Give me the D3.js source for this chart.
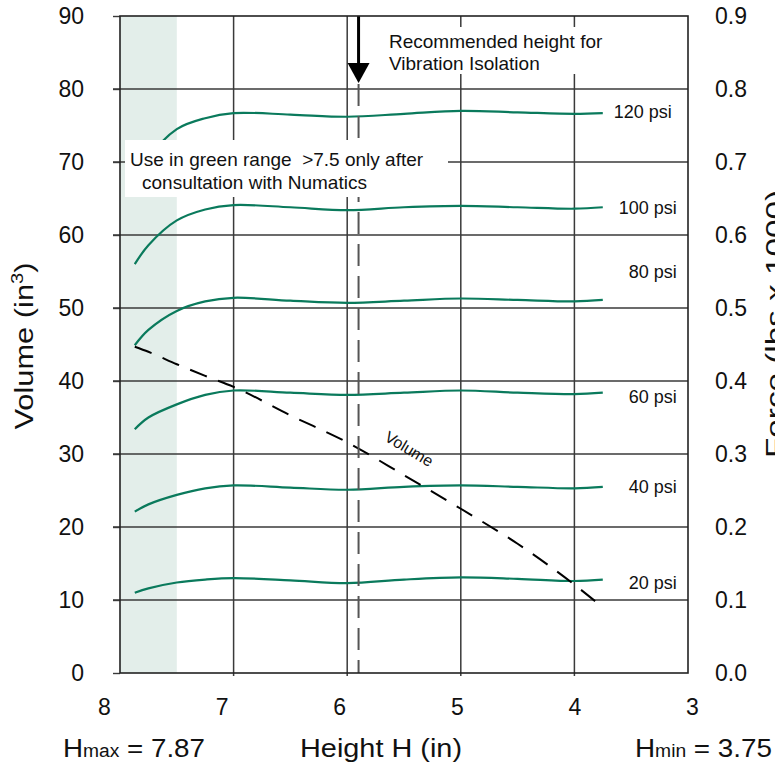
<!DOCTYPE html>
<html>
<head>
<meta charset="utf-8">
<script src="https://cdn.jsdelivr.net/npm/d3@7"></script>
<style>
  html, body { margin: 0; padding: 0; background: #fff; }
  svg { display: block; font-family: "Liberation Sans", Arial, Helvetica, sans-serif; }
</style>
</head>
<body>
<svg id="chart" width="775" height="768"></svg>
<script>
// ---- data ----
const heights = [7.87, 7.75, 7.5, 7.25, 7.0, 6.5, 6.0, 5.5, 5.0, 4.5, 4.0, 3.75];
const pressureLabels = ["120 psi", "100 psi", "80 psi", "60 psi", "40 psi", "20 psi"];
const force120 = [0.670, 0.705, 0.745, 0.760, 0.767, 0.765, 0.762, 0.766, 0.770, 0.768, 0.766, 0.767];
const force100 = [0.560, 0.586, 0.620, 0.635, 0.641, 0.638, 0.634, 0.638, 0.640, 0.638, 0.636, 0.638];
const force80  = [0.449, 0.470, 0.496, 0.509, 0.514, 0.510, 0.507, 0.510, 0.513, 0.511, 0.509, 0.511];
const force60  = [0.334, 0.350, 0.368, 0.381, 0.387, 0.384, 0.381, 0.384, 0.387, 0.384, 0.382, 0.384];
const force40  = [0.221, 0.231, 0.244, 0.253, 0.257, 0.254, 0.251, 0.255, 0.257, 0.255, 0.253, 0.255];
const force20  = [0.110, 0.116, 0.124, 0.128, 0.130, 0.127, 0.123, 0.128, 0.131, 0.129, 0.126, 0.128];
const volume   = [44.7, 44.0, 42.3, 40.7, 39.2, 35.3, 31.6, 27.1, 22.5, 17.7, 12.1, 9.0];
const volumeTicks = [0, 10, 20, 30, 40, 50, 60, 70, 80, 90];
const forceTicks = [0.0, 0.1, 0.2, 0.3, 0.4, 0.5, 0.6, 0.7, 0.8, 0.9];
const heightTicks = [8, 7, 6, 5, 4, 3];
const greenRange = [8, 7.5];
const recommendedHeight = 5.9;
const hMax = 7.87, hMin = 3.75;
const forceSeries = [force120, force100, force80, force60, force40, force20];

// ---- layout ----
const L = 120, R = 688, T = 16, B = 673;
const svg = d3.select("#chart");
const x = d3.scaleLinear().domain([8, 3]).range([L, R]);
const xLab = d3.scaleLinear().domain([8, 3]).range([104, 692]);
const yV = d3.scaleLinear().domain([0, 90]).range([B, T]);
const yF = d3.scaleLinear().domain([0, 0.9]).range([B, T]);

const gridColor = "#3a3a3a";
const teal = "#0a7a5c";

// green range band
svg.append("rect")
  .attr("x", x(greenRange[0])).attr("y", T)
  .attr("width", x(greenRange[1]) - x(greenRange[0]))
  .attr("height", B - T)
  .attr("fill", "#e3eeea");

// horizontal grid lines (with small left ticks)
svg.append("g").selectAll("line").data(volumeTicks.filter(d => d > 0 && d < 90)).join("line")
  .attr("x1", L - 7).attr("x2", R)
  .attr("y1", d => yV(d)).attr("y2", d => yV(d))
  .attr("stroke", gridColor).attr("stroke-width", 1.4);

// vertical grid lines (with small bottom ticks)
svg.append("g").selectAll("line").data(heightTicks.filter(d => d < 8 && d > 3)).join("line")
  .attr("x1", d => x(d)).attr("x2", d => x(d))
  .attr("y1", T).attr("y2", B + 3)
  .attr("stroke", gridColor).attr("stroke-width", 1.5);

// left axis labels
const axL = svg.append("g").attr("transform", `translate(${L},0)`)
  .call(d3.axisLeft(yV).tickValues(volumeTicks).tickSize(7).tickPadding(29).tickFormat(d3.format("d")));
axL.select(".domain").remove();
axL.selectAll("line").attr("stroke", gridColor).attr("stroke-width", 1.4);
axL.selectAll("text").attr("font-size", 23).attr("fill", "#111").attr("font-family", "Liberation Sans, Arial, sans-serif");

// right axis labels
const axR = svg.append("g").attr("transform", `translate(${R},0)`)
  .call(d3.axisRight(yF).tickValues(forceTicks).tickSize(0).tickPadding(27).tickFormat(d3.format(".1f")));
axR.select(".domain").remove();
axR.selectAll("text").attr("font-size", 23).attr("fill", "#111").attr("font-family", "Liberation Sans, Arial, sans-serif");

// bottom axis labels
const axB = svg.append("g").attr("transform", `translate(0,${B})`)
  .call(d3.axisBottom(xLab).tickValues(heightTicks).tickSize(0).tickPadding(26).tickFormat(d3.format("d")));
axB.select(".domain").remove();
axB.selectAll("text").attr("font-size", 23).attr("fill", "#111").attr("font-family", "Liberation Sans, Arial, sans-serif");

// force curves
const forceLine = d3.line()
  .x((d, i) => x(heights[i]))
  .y(d => yF(d))
  .curve(d3.curveCatmullRom.alpha(0.5));
svg.append("g").selectAll("path").data(forceSeries).join("path")
  .attr("d", d => forceLine(d))
  .attr("fill", "none").attr("stroke", teal).attr("stroke-width", 2.2);

// volume curve
const volLine = d3.line()
  .x((d, i) => x(heights[i]))
  .y(d => yV(d))
  .curve(d3.curveMonotoneX);
svg.append("path").attr("d", volLine(volume))
  .attr("fill", "none").attr("stroke", "#000").attr("stroke-width", 2)
  .attr("stroke-dasharray", "18,12");

// volume label
const vx = x(5.48), vy = yV(27.3) - 20;
svg.append("text").attr("x", vx).attr("y", vy)
  .attr("transform", `rotate(31,${vx},${vy})`)
  .attr("text-anchor", "middle").attr("font-size", 16).attr("fill", "#111")
  .text("Volume");

// recommended height dashed vertical
svg.append("line")
  .attr("x1", x(recommendedHeight)).attr("x2", x(recommendedHeight))
  .attr("y1", 84).attr("y2", B)
  .attr("stroke", "#555").attr("stroke-width", 2)
  .attr("stroke-dasharray", "22,10");

// white annotation boxes
svg.append("rect").attr("x", 125).attr("y", 140).attr("width", 323).attr("height", 57).attr("fill", "#fff");
svg.append("rect").attr("x", 383).attr("y", 27).attr("width", 228).attr("height", 47).attr("fill", "#fff");

// annotation texts
svg.append("text").attr("x", 130).attr("y", 166).attr("font-size", 19).attr("fill", "#111")
  .attr("xml:space", "preserve").text("Use in green range  >7.5 only after");
svg.append("text").attr("x", 142).attr("y", 189).attr("font-size", 19).attr("fill", "#111")
  .text("consultation with Numatics");
svg.append("text").attr("x", 389).attr("y", 48).attr("font-size", 19).attr("fill", "#111")
  .text("Recommended height for");
svg.append("text").attr("x", 389).attr("y", 70).attr("font-size", 19).attr("fill", "#111")
  .text("Vibration Isolation");

// arrow
const ax = x(recommendedHeight);
svg.append("line").attr("x1", ax).attr("x2", ax).attr("y1", T).attr("y2", 66)
  .attr("stroke", "#000").attr("stroke-width", 3);
svg.append("path").attr("d", `M${ax - 11},63 L${ax + 11},63 L${ax},83 Z`).attr("fill", "#000");

// psi labels
const labelDx = [11, 16, 26, 26, 26, 26];
const labelDy = [5, 7, -22, 10, 6, 9];
svg.append("g").selectAll("text").data(pressureLabels).join("text")
  .attr("x", (d, i) => x(hMin) + labelDx[i])
  .attr("y", (d, i) => yF(forceSeries[i][forceSeries[i].length - 1]) + labelDy[i])
  .attr("font-size", 18).attr("fill", "#111")
  .text(d => d);

// plot border
svg.append("rect").attr("x", L).attr("y", T).attr("width", R - L).attr("height", B - T)
  .attr("fill", "none").attr("stroke", "#222").attr("stroke-width", 1.6);

// axis titles
svg.append("text").attr("transform", "translate(33,346) rotate(-90)")
  .attr("text-anchor", "middle").attr("font-size", 26).attr("fill", "#111")
  .attr("textLength", 167).attr("lengthAdjust", "spacingAndGlyphs")
  .call(t => {
    t.append("tspan").text("Volume (in");
    t.append("tspan").attr("font-size", 17).attr("dy", -10).text("3");
    t.append("tspan").attr("dy", 10).text(")");
  });

svg.append("text").attr("transform", "translate(784,324) rotate(-90)")
  .attr("text-anchor", "middle").attr("font-size", 26).attr("fill", "#111")
  .attr("textLength", 268).attr("lengthAdjust", "spacingAndGlyphs")
  .text("Force (lbs x 1000)");

svg.append("text").attr("x", 300).attr("y", 757)
  .attr("font-size", 26).attr("fill", "#111")
  .attr("textLength", 162).attr("lengthAdjust", "spacingAndGlyphs")
  .text("Height H (in)");

function hLabel(xpos, sub, val, len) {
  const t = svg.append("text").attr("x", xpos).attr("y", 757)
    .attr("font-size", 26).attr("fill", "#111")
    .attr("textLength", len).attr("lengthAdjust", "spacingAndGlyphs");
  t.append("tspan").text("H");
  t.append("tspan").attr("font-size", 18).text(sub);
  t.append("tspan").text(" = " + val.toFixed(2));
}
hLabel(63, "max", hMax, 142);
hLabel(635, "min", hMin, 137);
</script>
</body>
</html>
